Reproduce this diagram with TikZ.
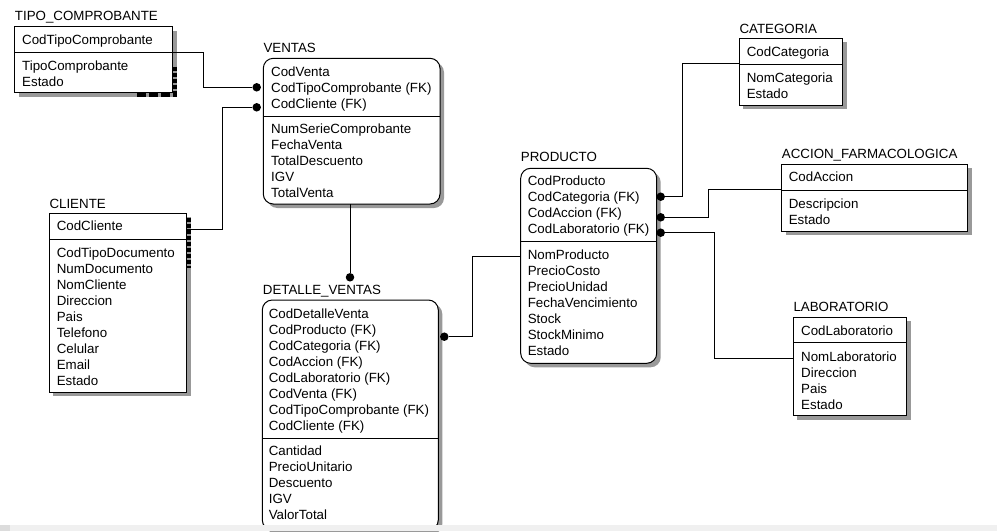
\documentclass[tikz,border=0pt]{standalone}
\usepackage{fontspec}
\setmainfont{Liberation Sans}
\usetikzlibrary{shadows}

\definecolor{shade}{gray}{0.6}
\definecolor{barbg}{HTML}{F0F0F0}
\definecolor{barend}{HTML}{DCDCDC}

\tikzset{
  tbl/.style={draw, line width=1pt, fill=white, inner sep=0pt, outer sep=0pt,
    anchor=north west,
    drop shadow={shadow xshift=4pt, shadow yshift=-4pt, fill=shade, opacity=1}},
  rtbl/.style={tbl, rounded corners=10pt},
  sep/.style={line width=1pt},
  conn/.style={line width=1pt},
  fkdot/.style={circle, fill=black, draw=none, inner sep=0pt, minimum size=8.5pt},
  field/.style={anchor=base west, inner sep=0pt, font=\fontsize{13.33}{16}\selectfont},
  ttl/.style={field},
  marks/.style={line width=4.2pt, dash pattern=on 4pt off 2pt},
}

% rows of one section of a table: name prefix, x, centre y of first row, list
\newcommand{\erfields}[4]{%
  \foreach \fname [count=\i] in {#4}{%
    \node[field] (#1-\i) at (#2,{#3+4.7+16*(\i-1)}) {\fname};}}

\begin{document}
\begin{tikzpicture}[x=1pt,y=-1pt]
\useasboundingbox (0,0) rectangle (997,531);
\fill[white] (0,0) rectangle (997,531);

% ---------- table frames ----------
\node[tbl,  minimum width=158pt,   minimum height=66pt]   (tipo)        at (14.7,26.7)  {};
\node[rtbl, minimum width=176.7pt, minimum height=145.7pt](ventas)      at (263.3,58.3) {};
\node[tbl,  minimum width=137.4pt, minimum height=179pt]  (cliente)     at (49.3,213.3) {};
\node[rtbl, minimum width=176pt,   minimum height=230pt]  (detalle)     at (262.3,300)  {};
\node[rtbl, minimum width=136pt,   minimum height=195pt]  (producto)    at (520.7,168.3){};
\node[tbl,  minimum width=103.4pt, minimum height=66.7pt] (categoria)   at (739.3,38.3) {};
\node[tbl,  minimum width=186pt,   minimum height=66.7pt] (accion)      at (781.7,164.3){};
\node[tbl,  minimum width=113.4pt, minimum height=98.4pt] (laboratorio) at (793.3,317.3){};

% key / attribute separators
\draw[sep] (tipo.west |- 0,52.3)        -- (tipo.east |- 0,52.3);
\draw[sep] (ventas.west |- 0,116.7)     -- (ventas.east |- 0,116.7);
\draw[sep] (cliente.west |- 0,239.3)    -- (cliente.east |- 0,239.3);
\draw[sep] (detalle.west |- 0,438.3)    -- (detalle.east |- 0,438.3);
\draw[sep] (producto.west |- 0,241)     -- (producto.east |- 0,241);
\draw[sep] (categoria.west |- 0,64)     -- (categoria.east |- 0,64);
\draw[sep] (accion.west |- 0,190.3)     -- (accion.east |- 0,190.3);
\draw[sep] (laboratorio.west |- 0,342.7)-- (laboratorio.east |- 0,342.7);

% dark marks along some shadow edges
\draw[marks] (174.8,66.7) -- (174.8,96.5);
\draw[marks, dash pattern=on 9pt off 3pt] (137,94.8) -- (177,94.8);
\draw[marks] (188.9,217.5) -- (188.9,268);

% ---------- foreign key dots ----------
\node[fkdot] (ventas-fk1)   at (256.7,87.3)  {};
\node[fkdot] (ventas-fk2)   at (256.7,107.3) {};
\node[fkdot] (detalle-fk1)  at (350,277.3)   {};
\node[fkdot] (detalle-fk2)  at (444.3,336.7) {};
\node[fkdot] (producto-fk1) at (660.7,196.7) {};
\node[fkdot] (producto-fk2) at (660.7,217.3) {};
\node[fkdot] (producto-fk3) at (660.7,232.7) {};

% ---------- relationships ----------
\draw[conn] (tipo.east |- 0,52.3) -| (203.3,87.3) -- (ventas-fk1);
\draw[conn] (cliente.east |- 0,229.3) -| (222.3,107.3) -- (ventas-fk2);
\draw[conn] (ventas.south -| detalle-fk1) -- (detalle-fk1);
\draw[conn] (producto.west |- 0,256.7) -| (472.3,336.7) -- (detalle-fk2);
\draw[conn] (categoria.west |- 0,63.3) -| (682.3,196.7) -- (producto-fk1);
\draw[conn] (accion.west |- 0,189.7) -| (708.3,217.3) -- (producto-fk2);
\draw[conn] (laboratorio.west |- 0,358.3) -| (714,232.7) -- (producto-fk3);

% ---------- titles ----------
\node[ttl] (tipo-t)        at (14.7,20.9)   {TIPO\_COMPROBANTE};
\node[ttl] (ventas-t)      at (263.3,52.7)  {VENTAS};
\node[ttl] (cliente-t)     at (49.3,208)    {CLIENTE};
\node[ttl] (detalle-t)     at (262.7,294.7) {DETALLE\_VENTAS};
\node[ttl] (producto-t)    at (520.7,161.4) {PRODUCTO};
\node[ttl] (categoria-t)   at (739.3,33.7)  {CATEGORIA};
\node[ttl] (accion-t)      at (781.7,158.7) {ACCION\_FARMACOLOGICA};
\node[ttl] (laboratorio-t) at (793.3,311.4) {LABORATORIO};

% ---------- columns ----------
\erfields{tipo-k}{22}{39.3}{CodTipoComprobante}
\erfields{tipo-a}{22}{65.7}{TipoComprobante, Estado}

\erfields{ventas-k}{271}{71.7}{CodVenta, CodTipoComprobante (FK), CodCliente (FK)}
\erfields{ventas-a}{271}{129}{NumSerieComprobante, FechaVenta, TotalDescuento, IGV, TotalVenta}

\erfields{cliente-k}{56.6}{226}{CodCliente}
\erfields{cliente-a}{56.6}{252.3}{CodTipoDocumento, NumDocumento, NomCliente, Direccion, Pais, Telefono, Celular, Email, Estado}

\erfields{detalle-k}{268.6}{313.3}{CodDetalleVenta, CodProducto (FK), CodCategoria (FK), CodAccion (FK), CodLaboratorio (FK), CodVenta (FK), CodTipoComprobante (FK), CodCliente (FK)}
\erfields{detalle-a}{268.6}{450.7}{Cantidad, PrecioUnitario, Descuento, IGV, ValorTotal}

\erfields{producto-k}{527.6}{180.3}{CodProducto, CodCategoria (FK), CodAccion (FK), CodLaboratorio (FK)}
\erfields{producto-a}{527.6}{254.3}{NomProducto, PrecioCosto, PrecioUnidad, FechaVencimiento, Stock, StockMinimo, Estado}

\erfields{categoria-k}{746.6}{51.7}{CodCategoria}
\erfields{categoria-a}{746.6}{77.3}{NomCategoria, Estado}

\erfields{accion-k}{788.6}{176.7}{CodAccion}
\erfields{accion-a}{788.6}{203.3}{Descripcion, Estado}

\erfields{laboratorio-k}{801}{330.3}{CodLaboratorio}
\erfields{laboratorio-a}{801}{356.7}{NomLaboratorio, Direccion, Pais, Estado}

% ---------- bottom bar ----------
\fill[barbg]  (0,525) rectangle (997,531);
\fill[barend] (0,525) rectangle (10,531);
\end{tikzpicture}
\end{document}
